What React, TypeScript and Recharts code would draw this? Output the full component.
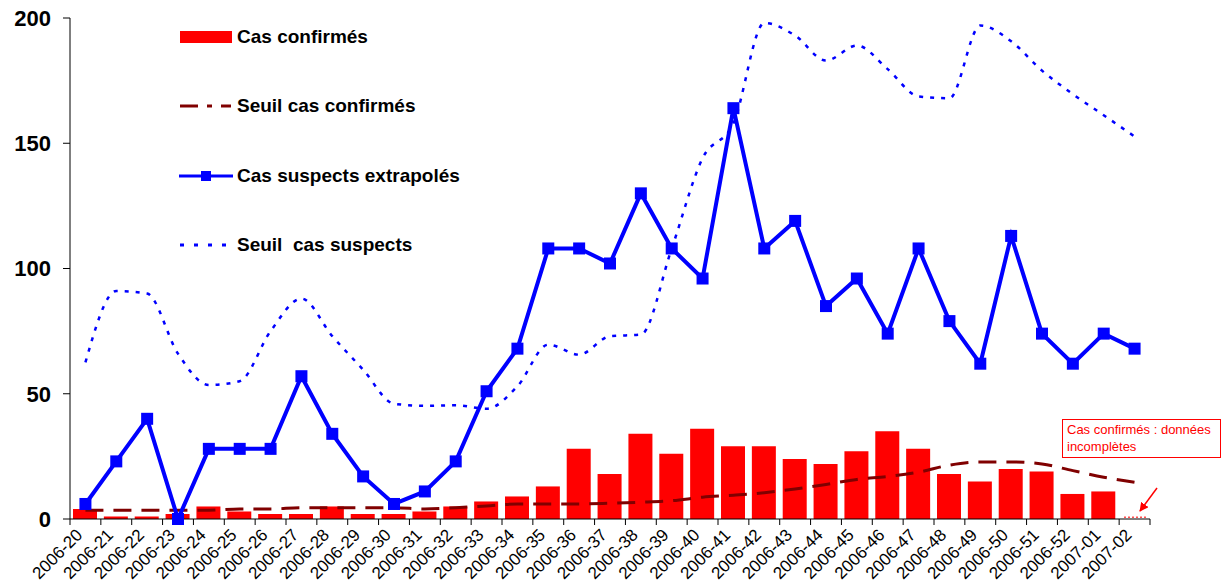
import { Bar, Cell, ComposedChart, Legend, Line, XAxis, YAxis } from "recharts";

// Semaines ISO (2006-20 .. 2007-02)
const weeks = [
  "2006-20", "2006-21", "2006-22", "2006-23", "2006-24", "2006-25", "2006-26",
  "2006-27", "2006-28", "2006-29", "2006-30", "2006-31", "2006-32", "2006-33",
  "2006-34", "2006-35", "2006-36", "2006-37", "2006-38", "2006-39", "2006-40",
  "2006-41", "2006-42", "2006-43", "2006-44", "2006-45", "2006-46", "2006-47",
  "2006-48", "2006-49", "2006-50", "2006-51", "2006-52", "2007-01", "2007-02",
];

const casConfirmes = [
  4, 1, 1, 2, 5, 3, 2, 2, 5, 2, 2, 3, 5, 7, 9, 13, 28, 18, 34, 26, 36, 29,
  29, 24, 22, 27, 35, 28, 18, 15, 20, 19, 10, 11, 1,
];

const seuilConfirmes = [
  3.5, 3.5, 3.5, 3.5, 3.5, 4, 4, 4.5, 4.5, 4.5, 4.5, 4, 4.5, 5.2, 6, 6, 6,
  6.3, 6.7, 7.3, 8.7, 9.5, 10.5, 12, 13.8, 15.8, 17, 18.7, 21.5, 22.8, 22.8,
  22, 19.3, 16.7, 14.7,
];

const casSuspects = [
  6, 23, 40, 0, 28, 28, 28, 57, 34, 17, 6, 11, 23, 51, 68, 108, 108, 102, 130,
  108, 96, 164, 108, 119, 85, 96, 74, 108, 79, 62, 113, 74, 62, 74, 68,
];

const seuilSuspects = [
  62.5, 91, 90, 66, 53.5, 55, 75, 88, 73, 59.6, 46, 45.2, 45.4, 44, 53, 69.6,
  65.6, 73, 73.6, 108, 144, 158, 198, 193, 183, 189, 179.6, 168.7, 168, 197,
  190.7, 179, 169.6, 161.2, 152.7,
];

const yTicks = [0, 50, 100, 150, 200];

const data = weeks.map((week, i) => ({
  week,
  confirmes: casConfirmes[i],
  seuilConfirmes: seuilConfirmes[i],
  suspects: casSuspects[i],
  seuilSuspects: seuilSuspects[i],
}));

const FONT = '"Liberation Sans", Arial, sans-serif';
const PLOT_W = 1080;
const BAND = PLOT_W / weeks.length;

function WeekTick({ x, y, payload, index }: any) {
  const last = index === weeks.length - 1;
  return (
    <g>
      <line x1={x - BAND / 2} x2={x - BAND / 2} y1={y} y2={y + 6} stroke="#000" />
      {last && <line x1={x + BAND / 2} x2={x + BAND / 2} y1={y} y2={y + 6} stroke="#000" />}
      <text
        x={0}
        y={0}
        transform={`translate(${x - 2},${y + 17}) rotate(-45)`}
        textAnchor="end"
        fontSize={17}
        fontFamily={FONT}
        fill="#000"
      >
        {payload.value}
      </text>
    </g>
  );
}

function SquareDot({ cx, cy, index }: any) {
  return <rect key={index} x={cx - 6} y={cy - 6} width={12} height={12} fill="#0000FF" />;
}

const legendRows = [
  {
    label: "Cas confirmés",
    icon: <rect x={2} y={4} width={52} height={12} fill="#FF0000" />,
  },
  {
    label: "Seuil cas confirmés",
    icon: (
      <g stroke="#800000" strokeWidth={3}>
        <line x1={2} x2={20} y1={10} y2={10} />
        <line x1={29} x2={34} y1={10} y2={10} />
        <line x1={43} x2={53} y1={10} y2={10} />
      </g>
    ),
  },
  {
    label: "Cas suspects extrapolés",
    icon: (
      <g>
        <line x1={1} x2={55} y1={10} y2={10} stroke="#0000FF" strokeWidth={3} />
        <rect x={23} y={5} width={10} height={10} fill="#0000FF" />
      </g>
    ),
  },
  {
    label: "Seuil  cas suspects",
    icon: (
      <line x1={2} x2={55} y1={10} y2={10} stroke="#0000FF" strokeWidth={3} strokeDasharray="4 10" />
    ),
  },
];

function LegendBox() {
  return (
    <div style={{ fontFamily: FONT }}>
      {legendRows.map((r) => (
        <div key={r.label} style={{ display: "flex", alignItems: "center", height: 69.5 }}>
          <svg width={58} height={20} style={{ marginRight: 1 }}>
            {r.icon}
          </svg>
          <span style={{ fontSize: 19, fontWeight: "bold", color: "#000", whiteSpace: "pre" }}>
            {r.label}
          </span>
        </div>
      ))}
    </div>
  );
}

export default function App() {
  return (
    <div style={{ position: "relative", width: 1224, height: 587, background: "#fff" }}>
      <style>{"body{margin:0}"}</style>
      <ComposedChart
        width={1224}
        height={587}
        data={data}
        margin={{ top: 18, right: 74, bottom: 0, left: 0 }}
      >
        <defs>
          <pattern id="incomplet" width="4" height="3" patternUnits="userSpaceOnUse">
            <rect width="4" height="3" fill="#fff" />
            <rect width="2" height="2" fill="#FF5050" />
          </pattern>
        </defs>
        <XAxis
          dataKey="week"
          interval={0}
          height={68}
          tickSize={0}
          tickMargin={0}
          tickLine={false}
          axisLine={{ stroke: "#000" }}
          tick={<WeekTick />}
        />
        <YAxis
          domain={[0, 200]}
          ticks={yTicks}
          width={70}
          tickSize={7}
          tickMargin={12}
          axisLine={{ stroke: "#000" }}
          tickLine={{ stroke: "#000" }}
          tick={{ fontSize: 22, fontWeight: "bold", fill: "#000", fontFamily: FONT }}
        />
        <Legend
          layout="vertical"
          verticalAlign="middle"
          align="center"
          content={<LegendBox />}
          wrapperStyle={{ top: 2, left: 178, width: 320 }}
        />
        <Bar dataKey="confirmes" name="Cas confirmés" fill="#FF0000" barSize={24} isAnimationActive={false}>
          {data.map((d, i) => (
            <Cell key={d.week} fill={i === data.length - 1 ? "url(#incomplet)" : "#FF0000"} />
          ))}
        </Bar>
        <Line
          type="monotone"
          dataKey="seuilConfirmes"
          name="Seuil cas confirmés"
          stroke="#800000"
          strokeWidth={3}
          strokeDasharray="18 10"
          dot={false}
          isAnimationActive={false}
        />
        <Line
          type="monotone"
          dataKey="seuilSuspects"
          name="Seuil  cas suspects"
          stroke="#0000FF"
          strokeWidth={2.5}
          strokeDasharray="4 7"
          dot={false}
          isAnimationActive={false}
        />
        <Line
          type="linear"
          dataKey="suspects"
          name="Cas suspects extrapolés"
          stroke="#0000FF"
          strokeWidth={4}
          dot={<SquareDot />}
          activeDot={false}
          isAnimationActive={false}
        />
      </ComposedChart>
      <div
        style={{
          position: "absolute",
          left: 1062,
          top: 419,
          width: 153,
          height: 36,
          border: "1.5px solid #FF0000",
          padding: "1px 0 0 4px",
          fontFamily: FONT,
          fontSize: 13,
          lineHeight: "17px",
          color: "#FF0000",
          background: "#fff",
        }}
      >
        Cas confirmés : données incomplètes
      </div>
      <svg style={{ position: "absolute", left: 0, top: 0, pointerEvents: "none" }} width={1224} height={587}>
        <defs>
          <marker id="fleche" viewBox="0 0 10 10" refX="9" refY="5" markerWidth="6" markerHeight="6" orient="auto">
            <path d="M0,0 L10,5 L0,10 z" fill="#FF0000" />
          </marker>
        </defs>
        <line x1={1157} y1={488} x2={1140} y2={511} stroke="#FF0000" strokeWidth={1.5} markerEnd="url(#fleche)" />
      </svg>
    </div>
  );
}
